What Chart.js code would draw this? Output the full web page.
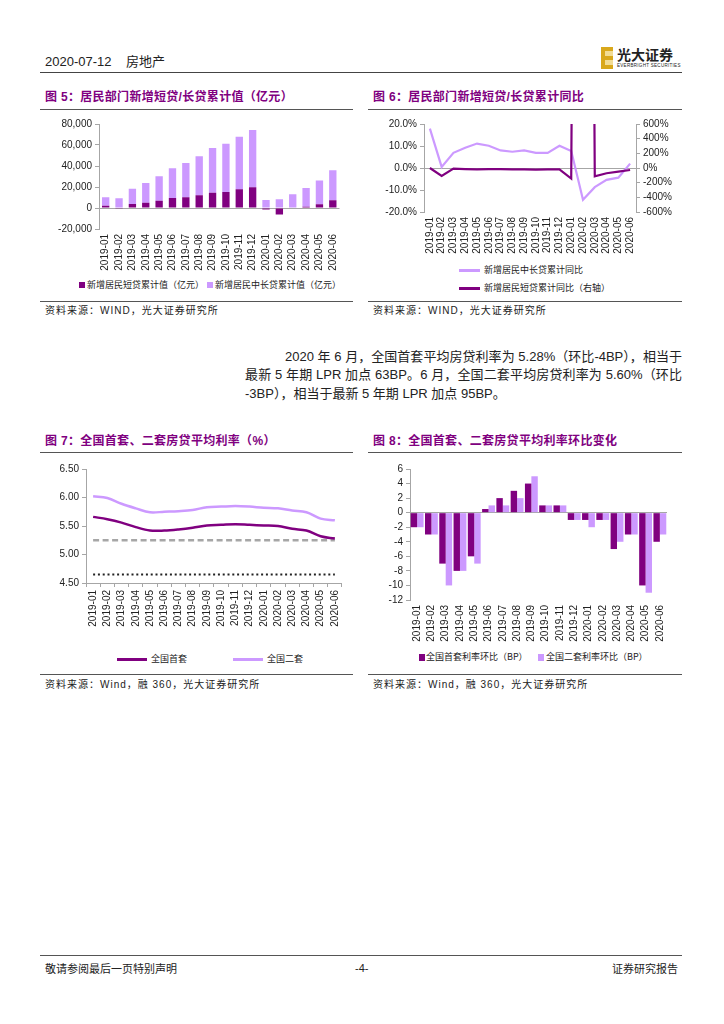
<!DOCTYPE html>
<html>
<head>
<meta charset="utf-8">
<script src="https://cdn.jsdelivr.net/npm/chart.js@4.4.1/dist/chart.umd.min.js"></script>
<style>
  body { margin: 0; width: 724px; height: 1024px; position: relative; overflow: hidden; background: #fff;
         font-family: "Liberation Sans", "Noto Sans CJK SC", sans-serif; color: #222; }
  .title { position: absolute; font-family: "Liberation Sans", "Noto Sans CJK SC", sans-serif; font-size: 12px;
           font-weight: bold; color: #800080; white-space: nowrap; line-height: 14px; letter-spacing: 0.3px; }
  .rule { position: absolute; height: 0; border-top: 1px solid #555; }
  .src { position: absolute; font-size: 10px; letter-spacing: 1px; white-space: nowrap; line-height: 12px; }
  .box { position: absolute; }
  .leg { position: absolute; font-family: "Noto Sans CJK SC", sans-serif; font-size: 9px; white-space: nowrap; line-height: 10px; }
  .sw { position: absolute; }
  .para { position: absolute; font-size: 13px; line-height: 18px; white-space: nowrap; }
  .just { text-align: justify; text-align-last: justify; white-space: normal; }
</style>
</head>
<body>

<!-- page header -->
<div class="para" style="left:45px;top:53px;font-size:13px;">2020-07-12&nbsp;&nbsp;&nbsp;&nbsp;房地产</div>
<div class="rule" style="left:40px;top:72px;width:642px;border-top:1.5px solid #444;"></div>
<div class="sw" style="left:601px;top:47px;width:12px;height:22px;background:linear-gradient(to bottom,#d9a81c 0 20%,#f2dc94 20% 40%,#d9a81c 40% 60%,#f2dc94 60% 80%,#d9a81c 80% 100%);"></div>
<div class="sw" style="left:601px;top:47px;width:4px;height:22px;background:#d9a81c;"></div>
<div class="para" style="left:617px;top:46px;font-family:'Noto Sans CJK SC';font-weight:bold;font-size:14px;line-height:17px;">光大证券</div>
<div class="para" style="left:617px;top:63px;font-size:4.5px;line-height:5px;letter-spacing:0.3px;">EVERBRIGHT SECURITIES</div>

<!-- figure 5 -->
<div class="title" style="left:45px;top:90px;">图 5：居民部门新增短贷/长贷累计值（亿元）</div>
<div class="rule" style="left:40px;top:109px;width:313px;"></div>
<div class="box" style="left:40px;top:115px;width:310px;height:160px;"><canvas id="c5"></canvas></div>
<div class="sw" style="left:79px;top:282px;width:6px;height:6px;background:#800080;"></div>
<div class="leg" style="left:87px;top:280px;">新增居民短贷累计值（亿元）</div>
<div class="sw" style="left:207px;top:282px;width:6px;height:6px;background:#cc99ff;"></div>
<div class="leg" style="left:215px;top:280px;">新增居民中长贷累计值（亿元）</div>
<div class="rule" style="left:40px;top:301px;width:313px;"></div>
<div class="src" style="left:45px;top:305px;">资料来源：WIND，光大证券研究所</div>

<!-- figure 6 -->
<div class="title" style="left:373px;top:90px;">图 6：居民部门新增短贷/长贷累计同比</div>
<div class="rule" style="left:368px;top:109px;width:314px;"></div>
<div class="box" style="left:368px;top:115px;width:314px;height:143px;"><canvas id="c6"></canvas></div>
<div class="sw" style="left:459px;top:269px;width:21px;height:3px;background:#cc99ff;"></div>
<div class="leg" style="left:484px;top:265px;">新增居民中长贷累计同比</div>
<div class="sw" style="left:459px;top:287px;width:21px;height:3px;background:#800080;"></div>
<div class="leg" style="left:484px;top:283px;">新增居民短贷累计同比（右轴）</div>
<div class="rule" style="left:368px;top:301px;width:314px;"></div>
<div class="src" style="left:373px;top:305px;">资料来源：WIND，光大证券研究所</div>

<!-- text -->
<div class="para just" style="left:285px;top:348px;width:397px;">2020 年 6 月，全国首套平均房贷利率为 5.28%（环比-4BP），相当于</div>
<div class="para just" style="left:245px;top:366px;width:437px;">最新 5 年期 LPR 加点 63BP。6 月，全国二套平均房贷利率为 5.60%（环比</div>
<div class="para" style="left:245px;top:385px;">-3BP），相当于最新 5 年期 LPR 加点 95BP。</div>

<!-- figure 7 -->
<div class="title" style="left:45px;top:434px;">图 7：全国首套、二套房贷平均利率（%）</div>
<div class="rule" style="left:40px;top:452px;width:313px;"></div>
<div class="box" style="left:40px;top:460px;width:310px;height:168px;"><canvas id="c7"></canvas></div>
<div class="sw" style="left:117px;top:658px;width:30px;height:3px;background:#800080;"></div>
<div class="leg" style="left:151px;top:654px;">全国首套</div>
<div class="sw" style="left:233px;top:658px;width:30px;height:3px;background:#cc99ff;"></div>
<div class="leg" style="left:267px;top:654px;">全国二套</div>
<div class="rule" style="left:40px;top:674px;width:313px;"></div>
<div class="src" style="left:45px;top:679px;">资料来源：Wind，融 360，光大证券研究所</div>

<!-- figure 8 -->
<div class="title" style="left:373px;top:434px;">图 8：全国首套、二套房贷平均利率环比变化</div>
<div class="rule" style="left:368px;top:452px;width:314px;"></div>
<div class="box" style="left:368px;top:460px;width:314px;height:183px;"><canvas id="c8"></canvas></div>
<div class="sw" style="left:419px;top:654px;width:6px;height:7px;background:#800080;"></div>
<div class="leg" style="left:426px;top:652px;">全国首套利率环比（BP）</div>
<div class="sw" style="left:538px;top:654px;width:6px;height:7px;background:#cc99ff;"></div>
<div class="leg" style="left:546px;top:652px;">全国二套利率环比（BP）</div>
<div class="rule" style="left:368px;top:674px;width:314px;"></div>
<div class="src" style="left:373px;top:679px;">资料来源：Wind，融 360，光大证券研究所</div>

<!-- footer -->
<div class="rule" style="left:40px;top:955px;width:642px;"></div>
<div class="para" style="left:45px;top:961px;font-size:11px;line-height:14px;font-family:'Noto Sans CJK SC';">敬请参阅最后一页特别声明</div>
<div class="para" style="left:355px;top:961px;font-size:11px;line-height:14px;">-4-</div>
<div class="para" style="left:612px;top:961px;font-size:11px;line-height:14px;font-family:'Noto Sans CJK SC';">证券研究报告</div>

<script>
const months = ["2019-01", "2019-02", "2019-03", "2019-04", "2019-05", "2019-06", "2019-07", "2019-08", "2019-09",
  "2019-10", "2019-11", "2019-12", "2020-01", "2020-02", "2020-03", "2020-04", "2020-05", "2020-06"];

// fig 5, 100m yuan
const shortLoanCum = [2200, -700, 3800, 5100, 7000, 9500, 10200, 12100, 14600, 15200, 17800, 19700, -1500, -6300, -500, 1300, 3500, 7300];
const longLoanCum = [8000, 9200, 14600, 18700, 23200, 28300, 32700, 37100, 42500, 46100, 50100, 54600, 7600, 8300, 13000, 17700, 22800, 28600];

// fig 6, %
const longLoanYoy = [17.9, 0.5, 6.9, 9.2, 11.1, 10.1, 8.0, 7.4, 8.0, 6.9, 6.9, 10.1, 7.7, -14.4, -8.7, -5.4, -4.4, 2.0];
const shortLoanYoy = [0, -108, -9, -14, -18, -14, -16, -18, -18, -22, -20, -18, -144, 25000, -113, -72, -50, -27];

// fig 7, %
const firstHomeRate = [5.66, 5.62, 5.56, 5.48, 5.42, 5.42, 5.44, 5.47, 5.51, 5.52, 5.53, 5.52, 5.51, 5.50, 5.45, 5.42, 5.32, 5.28];
const secondHomeRate = [6.02, 5.99, 5.89, 5.81, 5.74, 5.75, 5.76, 5.78, 5.83, 5.84, 5.85, 5.84, 5.82, 5.81, 5.77, 5.74, 5.63, 5.60];
const dashedRefLine = [5.25, 5.25, 5.25, 5.25, 5.25, 5.25, 5.25, 5.25, 5.25, 5.25, 5.25, 5.25, 5.25, 5.25, 5.25, 5.25, 5.25, 5.25];
const lpr5yLine = [4.65, 4.65, 4.65, 4.65, 4.65, 4.65, 4.65, 4.65, 4.65, 4.65, 4.65, 4.65, 4.65, 4.65, 4.65, 4.65, 4.65, 4.65];

// fig 8, BP
const firstHomeMom = [-2, -3, -7, -8, -6, 0.5, 2, 3, 4, 1, 1, -1, -1, -1, -5, -3, -10, -4];
const secondHomeMom = [-2, -3, -10, -8, -7, 1, 1, 2, 5, 1, 1, -1, -2, -1, -4, -3, -11, -3];

const DARK = "#800080";
const LIGHT = "#cc99ff";
const AXIS = "#a6a6a6";
const TICK_FONT = { family: "'Liberation Sans', Arial, sans-serif", size: 10 };

Chart.defaults.animation = false;
Chart.defaults.responsive = true;
Chart.defaults.maintainAspectRatio = false;
Chart.defaults.plugins.legend.display = false;
Chart.defaults.plugins.tooltip.enabled = false;

function categoryAxis(height, withTicks) {
  return {
    offset: true,
    ticks: { color: "#222", font: TICK_FONT, minRotation: 90, maxRotation: 90, autoSkip: false, padding: withTicks ? 3 : 5 },
    grid: withTicks
      ? { offset: true, drawOnChartArea: false, drawTicks: true, tickLength: 4, color: AXIS }
      : { display: false, drawTicks: false },
    border: { display: withTicks, color: AXIS },
    afterFit(scale) { scale.height = height; },
  };
}

function valueAxis(width, min, max, step, format, position = "left") {
  return {
    position,
    min,
    max,
    ticks: { stepSize: step, autoSkip: false, color: "#222", font: TICK_FONT, padding: 3, callback: format },
    grid: {
      drawOnChartArea: position === "left",
      color: (c) => (c.tick && c.tick.value === 0 ? AXIS : "transparent"),
      tickColor: AXIS,
      tickLength: 4,
    },
    border: { display: true, color: AXIS },
    afterFit(scale) { scale.width = width; },
  };
}

new Chart(document.getElementById("c5"), {
  type: "bar",
  data: {
    labels: months,
    datasets: [
      { label: "新增居民短贷累计值（亿元）", data: shortLoanCum, backgroundColor: DARK },
      { label: "新增居民中长贷累计值（亿元）", data: longLoanCum, backgroundColor: LIGHT },
    ],
  },
  options: {
    layout: { padding: { top: 9, right: 7 } },
    datasets: { bar: { categoryPercentage: 0.55, barPercentage: 1 } },
    scales: {
      x: { ...categoryAxis(46, false), stacked: true },
      y: { ...valueAxis(59, -20000, 80000, 20000, (v) => v.toLocaleString("en-US")), stacked: true },
    },
  },
});

new Chart(document.getElementById("c6"), {
  type: "line",
  data: {
    labels: months,
    datasets: [
      { label: "新增居民中长贷累计同比", data: longLoanYoy, borderColor: LIGHT, borderWidth: 2.2, pointRadius: 0, yAxisID: "y", order: 1 },
      { label: "新增居民短贷累计同比（右轴）", data: shortLoanYoy, borderColor: DARK, borderWidth: 2.2, pointRadius: 0, yAxisID: "y1", order: 0 },
    ],
  },
  options: {
    layout: { padding: { top: 9 } },
    scales: {
      x: categoryAxis(46, false),
      y: valueAxis(56, -20, 20, 10, (v) => v.toFixed(1) + "%"),
      y1: valueAxis(46, -600, 600, 200, (v) => v + "%", "right"),
    },
  },
});

new Chart(document.getElementById("c7"), {
  type: "line",
  data: {
    labels: months,
    datasets: [
      { label: "全国首套", data: firstHomeRate, borderColor: DARK, borderWidth: 2.5, pointRadius: 0, tension: 0.35 },
      { label: "全国二套", data: secondHomeRate, borderColor: LIGHT, borderWidth: 2.5, pointRadius: 0, tension: 0.35 },
      { label: "dashed", data: dashedRefLine, borderColor: "#a6a6a6", borderWidth: 2.5, borderDash: [6, 3.5], pointRadius: 0 },
      { label: "lpr", data: lpr5yLine, borderColor: "#222", borderWidth: 2, borderDash: [2, 2.8], pointRadius: 0 },
    ],
  },
  options: {
    layout: { padding: { top: 9, right: 5 } },
    scales: {
      x: categoryAxis(45, true),
      y: {
        ...valueAxis(46, 4.5, 6.5, 0.5, (v) => v.toFixed(2)),
        grid: { drawOnChartArea: false, tickColor: AXIS, tickLength: 4, color: AXIS },
      },
    },
  },
});

new Chart(document.getElementById("c8"), {
  type: "bar",
  data: {
    labels: months,
    datasets: [
      { label: "全国首套利率环比（BP）", data: firstHomeMom, backgroundColor: DARK },
      { label: "全国二套利率环比（BP）", data: secondHomeMom, backgroundColor: LIGHT },
    ],
  },
  options: {
    layout: { padding: { top: 8, right: 15 } },
    datasets: { bar: { categoryPercentage: 0.9, barPercentage: 1 } },
    scales: {
      x: categoryAxis(43, false),
      y: valueAxis(42, -12, 6, 2, (v) => v),
    },
  },
});
</script>
</body>
</html>
